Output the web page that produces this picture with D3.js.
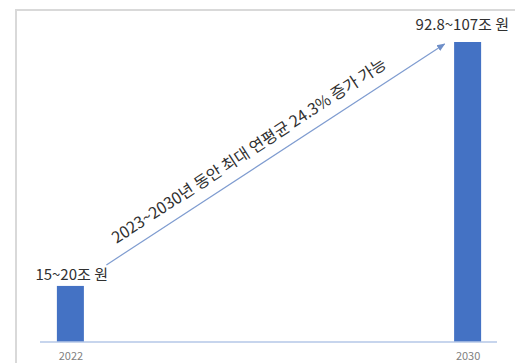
<!DOCTYPE html>
<html>
<head>
<meta charset="utf-8">
<script src="https://cdn.jsdelivr.net/npm/d3@7"></script>
<style>
  html, body { margin: 0; padding: 0; background: #fff; }
  svg { display: block; }
</style>
</head>
<body>
<svg id="chart" width="515" height="363"></svg>
<script>
// Market size outlook (trillion won)
const years = ["2022", "2030"];
const values = [20, 107];               // upper bound of each range
const valueLabels = ["15~20조 원", "92.8~107조 원"];
const growthNote = "2023~2030년 동안 최대 연평균 24.3% 증가 가능";

const W = 515, H = 363;
const svg = d3.select("#chart");
const font = "'Noto Sans CJK KR', 'Noto Sans', sans-serif";

// frame
svg.append("path")
  .attr("d", `M16,${H} L16,10 L${W},10`)
  .attr("fill", "none")
  .attr("stroke", "#d9d9d9")
  .attr("stroke-width", 2);

const x = d3.scalePoint().domain(years).range([40, 498]).padding(0.0765);
const y = d3.scaleLinear().domain([0, 107]).range([342, 42]);
const barW = 27;

// bars
svg.selectAll("rect.bar")
  .data(years)
  .join("rect")
  .attr("class", "bar")
  .attr("x", d => x(d) - barW / 2)
  .attr("y", (d, i) => y(values[i]))
  .attr("width", barW)
  .attr("height", (d, i) => y(0) - y(values[i]))
  .attr("fill", "#4472c4");

// baseline
svg.append("line")
  .attr("x1", 40).attr("x2", 497)
  .attr("y1", y(0)).attr("y2", y(0))
  .attr("stroke", "#b4c7e7")
  .attr("stroke-width", 1.5);

// category axis labels
const xAxis = d3.axisBottom(x).tickSize(0).tickPadding(8);
const gx = svg.append("g").attr("transform", `translate(0,${y(0) + 2})`).call(xAxis);
gx.select(".domain").remove();
gx.selectAll("text")
  .attr("font-family", font)
  .attr("font-size", 11)
  .attr("fill", "#7f7f7f");

// value labels
svg.selectAll("text.val")
  .data(years)
  .join("text")
  .attr("class", "val")
  .attr("x", (d, i) => i === 0 ? x(d) - 35 : x(d) - 52)
  .attr("y", (d, i) => y(values[i]) - (i === 0 ? 6 : 12))
  .attr("font-family", font)
  .attr("font-size", 15)
  .attr("fill", "#303030")
  .text((d, i) => valueLabels[i]);

// growth arrow
const defs = svg.append("defs");
defs.append("marker")
  .attr("id", "arrow")
  .attr("viewBox", "0 0 10 10")
  .attr("refX", 9).attr("refY", 5)
  .attr("markerWidth", 7).attr("markerHeight", 7)
  .attr("orient", "auto")
  .append("path")
  .attr("d", "M0,1 L10,5 L0,9 Z")
  .attr("fill", "#6f8fc8");

const x0 = x("2022") + 36, y0 = y(values[0]) - 21;
const x1 = x("2030") - 23, y1 = y(values[1]) + 2;
svg.append("line")
  .attr("x1", x0).attr("y1", y0)
  .attr("x2", x1).attr("y2", y1)
  .attr("stroke", "#7f9cd0")
  .attr("stroke-width", 1.2)
  .attr("marker-end", "url(#arrow)");

const ang = Math.atan2(y1 - y0, x1 - x0);
const t = 0.45, off = 19;
const tx = x0 + (x1 - x0) * t + Math.sin(ang) * off;
const ty = y0 + (y1 - y0) * t - Math.cos(ang) * off;
svg.append("text")
  .attr("transform", `translate(${tx},${ty}) rotate(${ang * 180 / Math.PI})`)
  .attr("text-anchor", "middle")
  .attr("dominant-baseline", "central")
  .attr("font-family", font)
  .attr("font-size", 16)
  .attr("fill", "#303030")
  .text(growthNote);
</script>
</body>
</html>
